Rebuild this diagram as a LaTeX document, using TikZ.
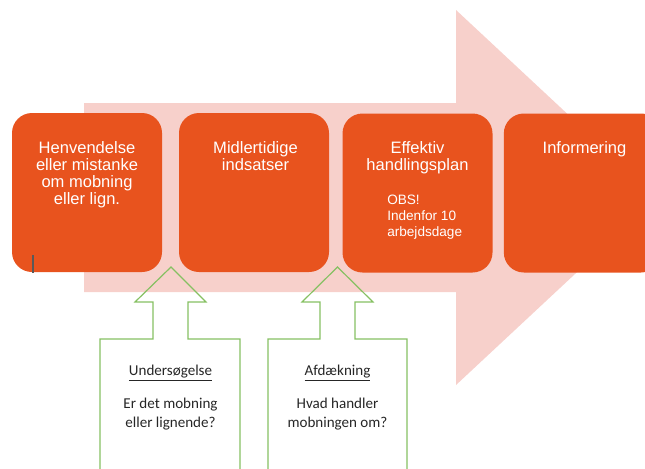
\documentclass[tikz,border=0pt]{standalone}
\usepackage{fontspec}
\setmainfont{Liberation Sans}
\newfontfamily\calfont{Carlito}
\definecolor{orng}{RGB}{232,83,30}
\definecolor{pnk}{RGB}{247,208,203}
\definecolor{grn}{RGB}{134,192,98}
\definecolor{gtxt}{RGB}{38,38,38}
\begin{document}
\begin{tikzpicture}[x=0.75pt,y=-0.75pt,
  obox/.style={fill=orng, draw=none, rounded corners=15pt, minimum width=112.5pt, minimum height=119.25pt, inner sep=0pt},
  otext/.style={text=white, align=center, font=\fontsize{12.4}{12.75}\selectfont, inner sep=0pt},
  osmall/.style={text=white, align=left, font=\fontsize{10.2}{12}\selectfont, inner sep=0pt},
  garrow/.style={draw=grn, line width=0.9pt, line join=miter},
  gtext/.style={text=gtxt, align=center, font=\calfont\fontsize{11.3}{14.3}\selectfont, inner sep=0pt}]
\useasboundingbox (0,0) rectangle (645,468);
\clip (0,0) rectangle (645,468);
% big background arrow
\fill[pnk] (84,103) -- (456,103) -- (456,10) -- (657,197.5) -- (456,385) -- (456,292) -- (84,292) -- cycle;
% orange boxes
\node[obox] (b1) at (87,192.5) {};
\node[obox] (b2) at (254,192.5) {};
\node[obox] (b3) at (417.5,193) {};
\node[obox, minimum width=118pt] (b4) at (582.5,193) {};
\node[otext, anchor=north] (t1) at (87,141) {Henvendelse\\eller mistanke\\om mobning\\eller lign.};
\node[otext, anchor=north] (t2) at (255.5,141) {Midlertidige\\indsatser};
\node[otext, anchor=north] (t3) at (417.5,141.5) {Effektiv\\handlingsplan};
\node[osmall, anchor=north west] (t3b) at (387,195) {OBS!\\Indenfor 10\\arbejdsdage};
\node[otext, anchor=north] (t4) at (584.5,141.5) {Informering};
% cursor mark
\draw[gray!70!black, line width=0.8pt] (33,255) -- (33,273);
% green up arrows
\draw[garrow] (100,475) -- (100,339) -- (153,339) -- (153,302) -- (135,302) -- (171,267) -- (206,302) -- (188,302) -- (188,339) -- (240,339) -- (240,475);
\draw[garrow] (268,475) -- (268,339) -- (320,339) -- (320,302) -- (302,302) -- (337.5,267) -- (373,302) -- (355,302) -- (355,339) -- (407,339) -- (407,475);
\node[gtext] (u1) at (170.5,373) {\underline{Undersøgelse}};
\node[gtext, anchor=north] (u2) at (170.5,398) {Er det mobning\\eller lignende?};
\node[gtext] (a1) at (337.5,373) {\underline{Afdækning}};
\node[gtext, anchor=north] (a2) at (337.5,398) {Hvad handler\\mobningen om?};
\end{tikzpicture}
\end{document}
